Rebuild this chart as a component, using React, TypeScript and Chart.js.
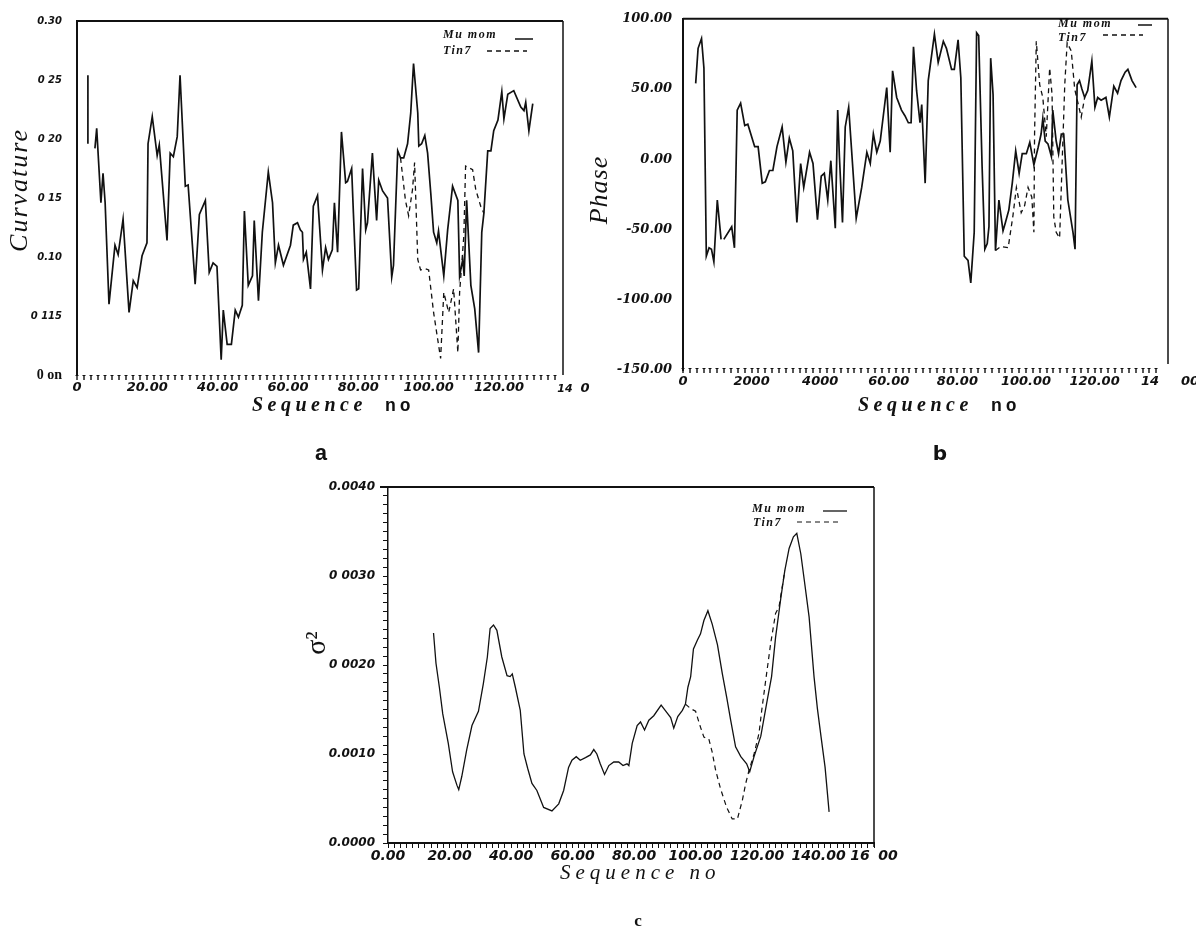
import React, { useEffect, useRef } from "react";
import { Chart, registerables } from "chart.js";

Chart.register(...registerables);

const INK = "#111";

// ---- (a) curvature vs sequence no ----
const curvMuSeq = [
  3.1, 3.1, 4.0, 5.1, 5.6, 6.8, 7.4, 8.0, 9.1, 10.8,
  11.7, 13.1, 14.8, 16.0, 17.1, 18.5, 19.9, 20.2, 21.4, 22.8,
  23.4, 25.6, 26.5, 27.4, 28.5, 29.3, 30.8, 31.6, 33.6, 34.8,
  36.5, 37.6, 38.7, 39.8, 41.0, 41.6, 42.7, 43.9, 45.0, 45.9,
  47.0, 47.6, 48.7, 49.9, 50.4, 51.6, 52.7, 54.4, 55.6, 56.4,
  57.3, 58.7, 60.7, 61.5, 62.7, 63.5, 64.1, 64.4, 65.2, 66.4,
  67.2, 68.4, 69.8, 70.7, 71.5, 72.6, 73.2, 74.1, 75.2, 76.4,
  76.9, 78.1, 78.6, 79.5, 80.1, 81.2, 82.1, 82.6, 84.0, 85.2,
  85.8, 86.9, 88.3, 89.5, 90.0, 91.2, 92.0, 92.9, 94.0, 94.9,
  95.7, 96.9, 97.2, 98.0, 98.9, 99.7, 100.6, 101.4, 102.3, 102.8,
  104.3, 105.4, 106.8, 108.3, 108.8, 109.7, 110.1, 110.8, 112.0, 113.1,
  114.2, 115.1, 115.7, 116.8, 117.7, 118.5, 119.7, 120.8, 121.4, 122.5,
  124.2, 126.2, 127.1, 127.6, 128.5, 129.6,
];
const curvMu = [
  0.254, 0.196, null, 0.192, 0.209, 0.146, 0.171, 0.146, 0.06, 0.11,
  0.102, 0.132, 0.053, 0.08, 0.074, 0.101, 0.112, 0.196, 0.219, 0.186,
  0.195, 0.114, 0.188, 0.185, 0.202, 0.254, 0.16, 0.161, 0.077, 0.136,
  0.148, 0.087, 0.095, 0.092, 0.013, 0.055, 0.026, 0.026, 0.055, 0.049,
  0.059, 0.139, 0.076, 0.084, 0.131, 0.063, 0.121, 0.172, 0.146, 0.095,
  0.11, 0.093, 0.11, 0.127, 0.129, 0.123, 0.121, 0.098, 0.104, 0.073,
  0.143, 0.152, 0.089, 0.108, 0.098, 0.106, 0.146, 0.104, 0.206, 0.163,
  0.164, 0.175, 0.137, 0.072, 0.073, 0.175, 0.123, 0.129, 0.188, 0.131,
  0.165, 0.156, 0.15, 0.083, 0.093, 0.19, 0.184, 0.184, 0.196, 0.222,
  0.264, 0.222, 0.194, 0.196, 0.203, 0.188, 0.154, 0.121, 0.112, 0.122,
  0.084, 0.123, 0.16, 0.148, 0.084, 0.098, 0.084, 0.148, 0.076, 0.056,
  0.019, 0.121, 0.137, 0.19, 0.19, 0.207, 0.216, 0.24, 0.217, 0.238,
  0.241, 0.227, 0.224, 0.231, 0.207, 0.23,
];
const curvTinSeq = [
  92.0, 93.4, 94.3, 95.4, 96.0, 96.9, 97.7, 99.1, 100.0, 101.4,
  103.4, 104.3, 105.7, 107.1, 108.3, 108.8, 110.0, 110.5, 112.5, 113.4,
  114.8, 115.7,
];
const curvTin = [
  0.184, 0.148, 0.135, 0.157, 0.18, 0.098, 0.089, 0.09, 0.089, 0.053,
  0.014, 0.07, 0.053, 0.073, 0.019, 0.07, 0.118, 0.177, 0.174, 0.157,
  0.143, 0.137,
];
const curvXTicks = [0, 20, 40, 60, 80, 100, 120];
const curvXLabels = ["0", "20.00", "40.00", "60.00", "80.00", "100.00", "120.00"];
const curvYTicks = [0, 0.05, 0.1, 0.15, 0.2, 0.25, 0.3];
const curvYLabels = ["0 on", "0 115", "0.10", "0 15", "0 20", "0 25", "0.30"];

// ---- (b) phase vs sequence no ----
const phaseMuSeq = [
  3.7, 4.4, 5.4, 6.1, 6.8, 7.6, 8.3, 9.0, 10.0, 11.1,
  11.5, 11.9, 14.2, 15.0, 15.8, 16.8, 18.0, 18.9, 20.9, 21.9,
  23.1, 24.0, 25.2, 26.2, 27.4, 28.9, 30.0, 31.0, 32.0, 33.2,
  34.3, 35.2, 36.9, 37.9, 39.2, 40.3, 41.2, 42.2, 43.1, 44.4,
  45.1, 45.6, 46.5, 47.3, 48.3, 50.5, 52.1, 53.6, 54.6, 55.5,
  56.5, 57.5, 58.4, 59.4, 60.4, 61.1, 62.3, 63.7, 64.7, 65.7,
  66.5, 67.2, 68.1, 69.1, 69.6, 70.6, 71.5, 73.3, 74.4, 75.9,
  76.8, 78.3, 79.1, 80.2, 81.0, 82.0, 83.1, 83.9, 84.9, 85.6,
  86.2, 87.2, 88.0, 88.7, 89.2, 89.7, 90.4, 91.1, 92.1, 93.3,
  94.0, 95.0, 96.0, 97.0, 98.0, 98.9, 100.1, 101.1, 102.3, 103.5,
  104.4, 104.9, 105.6, 106.4, 107.4, 107.8, 108.8, 109.5, 110.3, 111.0,
  112.2, 113.7, 114.3, 114.9, 115.6, 116.3, 117.1, 118.0, 119.2, 120.1,
  120.9, 121.9, 123.3, 124.3, 125.6, 126.7, 127.7, 128.9, 129.7, 130.9,
  132.1,
];
const phaseMu = [
  54, 79, 86, 65, -69, -63, -64, -73, -29, -57,
  null, -57, -48, -63, 35, 40, 24, 25, 9, 9,
  -17, -16, -8, -8, 9, 23, -2, 15, 6, -45,
  -3, -20, 5, -3, -43, -12, -10, -29, -1, -49,
  35, 2, -45, 23, 37, -42, -20, 5, -3, 18,
  5, 13, 31, 51, 5, 63, 44, 35, 31, 26,
  26, 80, 49, 26, 39, -17, 56, 89, 69, 84,
  79, 64, 64, 85, 58, -69, -72, -88, -52, 90,
  88, -5, -64, -60, -48, 72, 46, -65, -29, -51,
  -45, -36, -17, 6, -10, 4, 4, 12, -4, 8,
  18, 29, 13, 11, 2, 35, 13, 4, 18, 18,
  -29, -52, -64, 53, 56, 50, 44, 49, 70, 37,
  44, 42, 44, 30, 52, 47, 56, 62, 64, 56,
  51,
];
const phaseTinSeq = [
  91.1, 92.7, 94.8, 96.2, 97.2, 98.6, 99.6, 100.6, 101.7, 102.3,
  102.5, 103.0, 104.0, 104.9, 105.9, 106.9, 107.6, 108.1, 108.8, 109.8,
  111.3, 112.0, 113.2, 114.2, 116.1, 117.1,
];
const phaseTin = [
  -65, -62, -63, -40, -20, -38, -33, -20, -27, -52,
  18, 84, 53, 44, 16, 65, 46, -41, -52, -56,
  53, 83, 77, 50, 30, 44,
];
const phaseXTicks = [0, 20, 40, 60, 80, 100, 120];
const phaseXLabels = ["0", "2000", "4000", "60.00", "80.00", "100.00", "120.00"];
const phaseYTicks = [-150, -100, -50, 0, 50, 100];
const phaseYLabels = ["-150.00", "-100.00", "-50.00", "0.00", "50.00", "100.00"];

// ---- (c) sigma^2 vs sequence no (values in units of 0.001) ----
const sigMuSeq = [
  14.8, 15.6, 16.7, 17.8, 19.6, 21.0, 22.4, 23.0, 24.0, 25.6,
  27.3, 29.4, 31.0, 32.3, 33.2, 34.3, 35.4, 37.0, 38.7, 39.7,
  40.4, 41.4, 43.0, 44.2, 45.4, 46.8, 48.4, 50.6, 53.3, 55.5,
  57.1, 58.7, 59.8, 61.2, 62.5, 64.2, 65.8, 66.9, 67.9, 69.0,
  70.4, 71.8, 73.4, 75.0, 76.4, 77.7, 78.3, 79.4, 81.0, 82.1,
  83.4, 84.8, 86.4, 88.8, 90.8, 91.9, 92.9, 94.2, 95.7, 96.7,
  97.5, 98.4, 99.3, 100.6, 101.6, 102.7, 104.0, 105.4, 107.1, 108.7,
  110.1, 111.4, 113.0, 114.7, 116.6, 117.6, 119.0, 121.2, 123.1, 124.7,
  126.0, 127.7, 129.0, 130.4, 131.8, 132.9, 134.2, 135.5, 136.9, 138.5,
  139.6, 140.8, 142.1, 143.4,
];
const sigMu = [
  2.36, 2.02, 1.75, 1.45, 1.12, 0.8, 0.65, 0.6, 0.75, 1.05,
  1.32, 1.48, 1.79, 2.09, 2.41, 2.45, 2.39, 2.09, 1.88, 1.87,
  1.9, 1.75, 1.49, 1.0, 0.84, 0.67, 0.59, 0.4, 0.36, 0.44,
  0.59, 0.85, 0.93, 0.97, 0.93, 0.96, 0.99, 1.05, 1.0, 0.89,
  0.77, 0.87, 0.91, 0.91, 0.87, 0.89, 0.87, 1.12, 1.32, 1.36,
  1.27, 1.38, 1.43, 1.55, 1.46, 1.41, 1.29, 1.42, 1.49, 1.56,
  1.75, 1.87, 2.18, 2.28, 2.35, 2.5, 2.61, 2.46, 2.23, 1.9,
  1.64, 1.38, 1.08, 0.97, 0.89, 0.8, 0.97, 1.2, 1.57, 1.87,
  2.31, 2.75, 3.06, 3.31, 3.44, 3.48, 3.25, 2.91, 2.54, 1.87,
  1.51, 1.19, 0.85, 0.35,
];
const sigTinSeq = [
  96.7, 98.4, 100.0, 101.6, 102.7, 104.3, 105.4, 106.5, 108.1, 110.1,
  111.9, 113.6, 115.2, 116.3, 117.4, 119.0, 120.6, 121.5, 122.8, 124.4,
  126.0, 127.1, 129.0,
];
const sigTin = [
  1.56, 1.51, 1.48, 1.3, 1.19, 1.17, 1.02, 0.82, 0.61, 0.4,
  0.27, 0.27, 0.48, 0.67, 0.82, 1.0, 1.23, 1.49, 1.83, 2.24,
  2.58, 2.65, 3.06,
];
const sigXTicks = [0, 20, 40, 60, 80, 100, 120, 140];
const sigXLabels = ["0.00", "20.00", "40.00", "60.00", "80.00", "100.00", "120.00", "140.00"];
const sigYTicks = [0, 1, 2, 3, 4];
const sigYLabels = ["0.0000", "0.0010", "0 0020", "0 0030", "0.0040"];

const zip = (xs: number[], ys: (number | null)[]) => xs.map((x, i) => ({ x, y: ys[i] }));

const lookup = (vals: number[], labels: string[]) => (v: number) => {
  const i = vals.findIndex((t) => Math.abs(t - v) < 1e-6);
  return i < 0 ? "" : labels[i];
};

const tickFont = (size: number) => ({ family: "DejaVu Sans", size, style: "italic" as const, weight: "bold" as const });

// tick row of the axes that have no base line, drawn from the x scale's own ticks
const tickRowPlugin = {
  id: "tickRow",
  afterDatasetsDraw(chart: any) {
    const row = chart.config.options.tickRow;
    if (!row) return;
    const { ctx, chartArea: ca } = chart;
    const sx = chart.scales.x;
    ctx.save();
    ctx.fillStyle = INK;
    for (const t of sx.ticks) {
      const px = Math.round(sx.getPixelForValue(t.value));
      if (px > ca.right - 4) continue;
      ctx.fillRect(px - 0.7, ca.bottom + row.offset, 1.4, row.len);
      ctx.fillRect(px - 1.5, ca.bottom + row.offset, 3, 1);
    }
    ctx.restore();
  },
};

// draws the frame, legend samples and the loose text of the scanned figure
const paperPlugin = {
  id: "paper",
  afterDraw(chart: any, _args: any, o: any) {
    const { ctx, chartArea: ca } = chart;
    ctx.save();
    ctx.strokeStyle = INK;
    ctx.fillStyle = INK;
    if (o.frame) {
      ctx.lineWidth = o.frame.top;
      ctx.beginPath();
      ctx.moveTo(ca.left - o.frame.topExt, ca.top);
      ctx.lineTo(ca.right, ca.top);
      ctx.stroke();
      ctx.lineWidth = o.frame.right;
      ctx.beginPath();
      ctx.moveTo(ca.right, ca.top);
      ctx.lineTo(ca.right, ca.bottom + o.frame.rightExt);
      ctx.stroke();
    }
    for (const l of o.lines || []) {
      ctx.setLineDash(l.dash || []);
      ctx.lineWidth = l.width || 1.5;
      ctx.beginPath();
      ctx.moveTo(l.x1, l.y);
      ctx.lineTo(l.x2, l.y);
      ctx.stroke();
    }
    ctx.setLineDash([]);
    for (const t of o.texts || []) {
      ctx.save();
      ctx.font = t.font;
      ctx.letterSpacing = (t.spacing || 0) + "px";
      ctx.textAlign = t.align || "left";
      ctx.textBaseline = t.baseline || "alphabetic";
      ctx.translate(t.x, t.y);
      if (t.rotate) ctx.rotate(t.rotate);
      ctx.fillText(t.text, 0, 0);
      ctx.restore();
    }
    ctx.restore();
  },
};

const lineSet = (xs: number[], ys: (number | null)[], dashed: boolean, width: number) => ({
  data: zip(xs, ys),
  borderColor: INK,
  borderWidth: width,
  borderDash: dashed ? [5, 4] : [],
  pointRadius: 0,
  tension: 0,
  spanGaps: false,
  fill: false,
});

function makeConfig(p: any) {
  return {
    type: "line",
    data: { datasets: p.datasets },
    plugins: [tickRowPlugin, paperPlugin],
    options: {
      animation: false,
      responsive: true,
      maintainAspectRatio: false,
      tickRow: p.tickRow,
      layout: { padding: p.padding },
      plugins: {
        legend: { display: false },
        tooltip: { enabled: false },
        paper: p.paper,
      },
      scales: {
        x: {
          type: "linear",
          min: 0,
          max: p.x.max,
          border: { display: p.x.border, color: INK, width: 2 },
          grid: { drawOnChartArea: false, drawTicks: p.x.border, tickLength: 5, color: INK, lineWidth: 1 },
          ticks: {
            stepSize: 2,
            maxTicksLimit: 1000,
            autoSkip: false,
            maxRotation: 0,
            padding: p.x.padding,
            color: INK,
            font: p.x.font,
            callback: lookup(p.x.ticks, p.x.labels),
          },
          afterFit: (s: any) => {
            s.height = 40;
          },
        },
        y: {
          type: "linear",
          min: p.y.min,
          max: p.y.max,
          border: { display: true, color: INK, width: p.y.borderWidth },
          grid: { drawOnChartArea: false, drawTicks: p.y.drawTicks, tickLength: 5, color: INK, lineWidth: 1 },
          ticks: {
            stepSize: p.y.step,
            maxTicksLimit: 1000,
            autoSkip: false,
            padding: p.y.padding,
            color: INK,
            font: p.y.font,
            callback: lookup(p.y.ticks, p.y.labels),
          },
          afterFit: (s: any) => {
            s.width = p.y.width;
          },
        },
      },
    },
  };
}

const legendFont = "italic bold 12px 'Liberation Serif'";
const seqFont = "italic bold 20px 'Liberation Serif'";
const noFont = "bold 18px 'Liberation Mono'";

const curvConfig = () =>
  makeConfig({
    datasets: [lineSet(curvTinSeq, curvTin, true, 1.3), lineSet(curvMuSeq, curvMu, false, 1.7)],
    padding: { left: 0, top: 18, right: 633, bottom: 514 },
    tickRow: { offset: 0, len: 5 },
    x: { max: 138.2, border: false, padding: 5, font: tickFont(13), ticks: curvXTicks, labels: curvXLabels },
    y: {
      min: 0,
      max: 0.3,
      step: 0.05,
      width: 77,
      borderWidth: 2,
      drawTicks: false,
      padding: 15,
      ticks: curvYTicks,
      labels: curvYLabels,
      font: (c: any) =>
        c.tick && c.tick.value === 0
          ? { family: "Liberation Serif", size: 14, weight: "bold", style: "normal" }
          : { family: "DejaVu Sans", size: 10, weight: "bold", style: "italic" },
    },
    paper: {
      frame: { top: 2, right: 1.5, topExt: 0, rightExt: 0 },
      lines: [
        { x1: 515, x2: 533, y: 39, width: 1.5 },
        { x1: 487, x2: 527, y: 51, width: 1.3, dash: [5, 4] },
      ],
      texts: [
        { text: "Curvature", x: 20, y: 190, font: "italic 26px 'Liberation Serif'", align: "center", baseline: "middle", rotate: -Math.PI / 2, spacing: 2 },
        { text: "Sequence", x: 252, y: 411, font: seqFont, spacing: 4.5 },
        { text: "no", x: 385, y: 411, font: noFont, spacing: 4 },
        { text: "a", x: 321, y: 460, font: "bold 22px 'Liberation Mono'", align: "center" },
        { text: "Mu mom", x: 443, y: 38, font: legendFont, spacing: 1.5 },
        { text: "Tin7", x: 443, y: 54, font: legendFont, spacing: 1.5 },
        { text: "14", x: 565, y: 392, font: "italic bold 11px 'DejaVu Sans'", align: "center" },
        { text: "0", x: 585, y: 392, font: "italic bold 13px 'DejaVu Sans'", align: "center" },
      ],
    },
  });

const phaseConfig = () =>
  makeConfig({
    datasets: [lineSet(phaseTinSeq, phaseTin, true, 1.3), lineSet(phaseMuSeq, phaseMu, false, 1.7)],
    padding: { left: 593, top: 15, right: 28, bottom: 519 },
    tickRow: { offset: -2, len: 5 },
    x: { max: 141.4, border: false, padding: 4, font: tickFont(13), ticks: phaseXTicks, labels: phaseXLabels },
    y: {
      min: -150,
      max: 100,
      step: 50,
      width: 90,
      borderWidth: 2,
      drawTicks: false,
      padding: 11,
      ticks: phaseYTicks,
      labels: phaseYLabels,
      font: { family: "DejaVu Serif", size: 13, weight: "bold", style: "italic" },
    },
    paper: {
      frame: { top: 2, right: 1.5, topExt: 0, rightExt: -6 },
      lines: [
        { x1: 1138, x2: 1152, y: 25, width: 1.5 },
        { x1: 1103, x2: 1143, y: 35, width: 1.3, dash: [5, 4] },
      ],
      texts: [
        { text: "Phase", x: 600, y: 190, font: "italic 26px 'Liberation Serif'", align: "center", baseline: "middle", rotate: -Math.PI / 2, spacing: 1 },
        { text: "Sequence", x: 858, y: 411, font: seqFont, spacing: 4.5 },
        { text: "no", x: 991, y: 411, font: noFont, spacing: 4 },
        { text: "b", x: 940, y: 460, font: "bold 20px 'DejaVu Sans'", align: "center" },
        { text: "Mu mom", x: 1058, y: 27, font: legendFont, spacing: 1.5 },
        { text: "Tin7", x: 1058, y: 41, font: legendFont, spacing: 1.5 },
        { text: "14", x: 1150, y: 385, font: "italic bold 13px 'DejaVu Sans'", align: "center" },
        { text: "00", x: 1190, y: 385, font: "italic bold 13px 'DejaVu Sans'", align: "center" },
      ],
    },
  });

const sigConfig = () =>
  makeConfig({
    datasets: [lineSet(sigTinSeq, sigTin, true, 1.2), lineSet(sigMuSeq, sigMu, false, 1.3)],
    padding: { left: 300, top: 487, right: 322, bottom: 46 },
    tickRow: null,
    x: { max: 158, border: true, padding: 0, font: tickFont(14), ticks: sigXTicks, labels: sigXLabels },
    y: {
      min: 0,
      max: 4,
      step: 0.1,
      width: 88,
      borderWidth: 1.5,
      drawTicks: true,
      padding: 8,
      ticks: sigYTicks,
      labels: sigYLabels,
      font: { family: "DejaVu Sans", size: 12, weight: "bold", style: "italic" },
    },
    paper: {
      frame: { top: 2, right: 1.5, topExt: 8, rightExt: 4 },
      lines: [
        { x1: 823, x2: 847, y: 511, width: 1.3 },
        { x1: 797, x2: 840, y: 522, width: 1.2, dash: [5, 4] },
      ],
      texts: [
        { text: "σ²", x: 318, y: 643, font: "28px 'Liberation Serif'", align: "center", baseline: "middle", rotate: -Math.PI / 2 },
        { text: "Sequence no", x: 560, y: 879, font: "italic 21px 'Liberation Serif'", spacing: 5 },
        { text: "c", x: 638, y: 926, font: "bold 17px 'Liberation Serif'", align: "center" },
        { text: "Mu mom", x: 752, y: 512, font: legendFont, spacing: 1.5 },
        { text: "Tin7", x: 753, y: 526, font: legendFont, spacing: 1.5 },
        { text: "16", x: 860, y: 860, font: "italic bold 14px 'DejaVu Sans'", align: "center" },
        { text: "00", x: 888, y: 860, font: "italic bold 14px 'DejaVu Sans'", align: "center" },
      ],
    },
  });

const Panel = ({ build }: { build: () => any }) => {
  const canvasRef = useRef<HTMLCanvasElement | null>(null);

  useEffect(() => {
    const chart = new Chart(canvasRef.current as HTMLCanvasElement, build());
    return () => {
      chart.destroy();
    };
  }, [build]);

  return (
    <div style={{ position: "absolute", left: 0, top: 0, width: 1196, height: 929 }}>
      <canvas ref={canvasRef} />
    </div>
  );
};

const App = () => (
  <div style={{ position: "absolute", left: 0, top: 0, width: 1196, height: 929, background: "#fff" }}>
    <Panel build={curvConfig} />
    <Panel build={phaseConfig} />
    <Panel build={sigConfig} />
  </div>
);

export default App;
